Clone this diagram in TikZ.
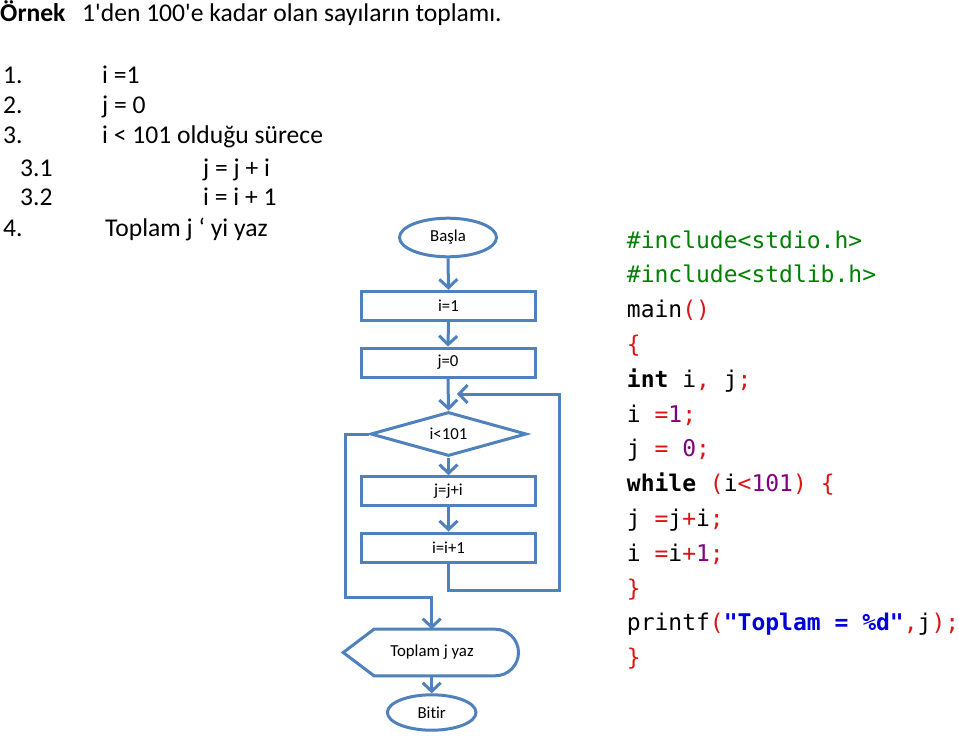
\documentclass[tikz,border=0pt]{standalone}
\usepackage{fontspec}
\setmainfont{Carlito}[Ligatures={TeXOff,NoCommon}]
\newfontfamily\codefont{DejaVu Sans Mono}
\usetikzlibrary{arrows.meta,shapes.geometric}
\definecolor{fcblue}{RGB}{79,129,189}
\definecolor{cgreen}{RGB}{0,128,0}
\definecolor{cred}{RGB}{220,20,20}
\definecolor{cpurple}{RGB}{128,0,128}
\definecolor{cblue}{RGB}{0,0,220}
\newcommand{\cR}[1]{\textcolor{cred}{#1}}
\newcommand{\cP}[1]{\textcolor{cpurple}{#1}}
\newcommand{\cG}[1]{\textcolor{cgreen}{#1}}
\newcommand{\cB}[1]{\textcolor{cblue}{#1}}
\tikzset{
  txt/.style={anchor=base west, inner sep=0pt, font=\fontsize{25.6}{30}\selectfont},
  code/.style={anchor=base west, inner sep=0pt, font=\codefont\fontsize{23}{27}\selectfont},
  fc/.style={draw=fcblue, line width=3pt},
  flab/.style={font=\fontsize{16.8}{20}\selectfont, inner sep=0pt},
  procbox/.style={fc, flab, rectangle, minimum width=174pt, minimum height=29pt},
  term/.style={fc, flab, ellipse},
  arr/.style={draw=fcblue, line width=3pt, -{Straight Barb[length=8.5pt,width=18pt]}},
}
\begin{document}
\begin{tikzpicture}[x=1pt,y=-1pt]
\useasboundingbox (0,0) rectangle (959,736);
% left text
\node[txt] (title) at (0,21) {\textbf{Örnek}};
\node[txt] (titleb) at (82,21) {1'den 100'e kadar olan sayıların toplamı.};
\node[txt] (n1) at (3,83) {1.};
\node[txt] (s1) at (102,83) {i =1};
\node[txt] (n2) at (3,113) {2.};
\node[txt] (s2) at (102,113) {j = 0};
\node[txt] (n3) at (3,143) {3.};
\node[txt] (s3) at (102,143) {i < 101 olduğu sürece};
\node[txt] (n31) at (20,176) {3.1};
\node[txt] (s31) at (203,176) {j = j + i};
\node[txt] (n32) at (20,205) {3.2};
\node[txt] (s32) at (203,205) {i = i + 1};
\node[txt] (n4) at (3,236) {4.};
\node[txt] (s4) at (105,236) {Toplam j ‘ yi yaz};
% flowchart
\node[term, minimum width=97pt, minimum height=38.6pt] (basla) at (448,237.5) {Başla};
\node[procbox] (i1) at (448.5,305.8) {i=1};
\node[procbox] (j0) at (448,362.5) {j=0};
\node[fc, flab, diamond, aspect=3.55, minimum width=156pt, minimum height=44pt] (dia) at (448.5,434) {i<101};
\node[procbox] (jji) at (448.5,491.2) {j=j+i};
\node[procbox] (ii1) at (448.5,547.5) {i=i+1};
\node[flab] (toplam) at (432,652.5) {Toplam j yaz};
\draw[fc] (343.2,652.5) -- (374,629.2) -- (495.2,629.2)
  arc[start angle=-90, end angle=90, radius=23.3] -- (374,675.8) -- cycle;
\coordinate (toptop) at (431.7,629.2);
\coordinate (topbot) at (431.7,675.8);
\node[term, minimum width=88.6pt, minimum height=35.4pt] (bitir) at (431.7,712.5) {Bitir};
\coordinate (loopR) at (559.3,590);
\coordinate (loopTip) at (457,394);
\coordinate (exL) at (345,597);
\draw[arr] (basla.south) -- (i1.north);
\draw[arr] (i1.south) -- (j0.north);
\draw[arr] (j0.south) -- (dia.north);
\draw[arr] (dia.south) -- (jji.north);
\draw[arr] (jji.south) -- (ii1.north);
\draw[arr] (ii1.south) |- (loopR) |- (loopTip);
\draw[arr] (dia.west) -| (exL) -| (toptop);
\draw[arr] (topbot) -- (bitir.north);
% code
\node[code] (c1) at (626.7,248) {\cG{\#include<stdio.h>}};
\node[code] (c2) at (626.7,282.8) {\cG{\#include<stdlib.h>}};
\node[code] (c3) at (626.7,317.6) {main\cR{()}};
\node[code] (c4) at (626.7,352.4) {\cR{\{}};
\node[code] (c5) at (626.7,387.2) {\textbf{int} i\cR{,} j\cR{;}};
\node[code] (c6) at (626.7,422) {i \cR{=}\cP{1}\cR{;}};
\node[code] (c7) at (626.7,456.8) {j \cR{=} \cP{0}\cR{;}};
\node[code] (c8) at (626.7,491.6) {\textbf{while} \cR{(}i\cR{<}\cP{101}\cR{)} \cR{\{}};
\node[code] (c9) at (626.7,526.4) {j \cR{=}j\cR{+}i\cR{;}};
\node[code] (c10) at (626.7,561.2) {i \cR{=}i\cR{+}\cP{1}\cR{;}};
\node[code] (c11) at (626.7,596) {\cR{\}}};
\node[code] (c12) at (626.7,630.8) {printf\cR{(}\cB{\textbf{"Toplam = \%d"}}\cR{,}j\cR{);}};
\node[code] (c13) at (626.7,665.6) {\cR{\}}};
\end{tikzpicture}
\end{document}
